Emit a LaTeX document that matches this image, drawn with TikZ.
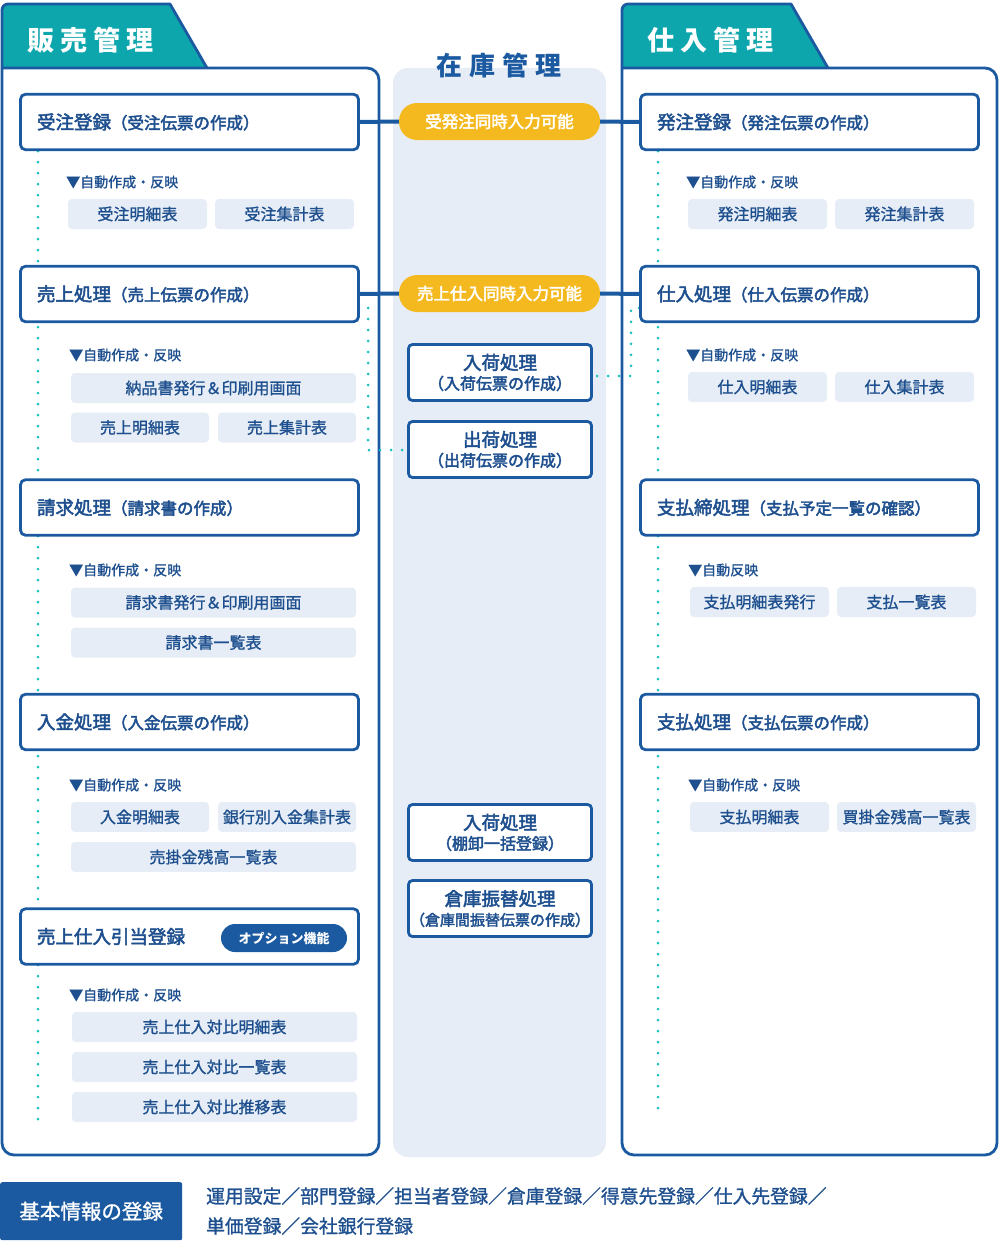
\documentclass[tikz,border=0pt]{standalone}
\usepackage{fontspec}
\setmainfont{Noto Sans CJK JP}
\newfontfamily\jpA[FakeBold=2.6]{Noto Sans CJK JP}
\newfontfamily\jpB[FakeBold=1.2]{Noto Sans CJK JP}
\definecolor{dblue}{HTML}{1B5AA0}
\definecolor{tblue}{HTML}{1E4F8E}
\definecolor{teal1}{HTML}{0DA6AD}
\definecolor{lightbg}{HTML}{E6EDF6}
\definecolor{yel}{HTML}{F5B920}
\definecolor{dotc}{HTML}{1DBFC1}
\pgfdeclarelayer{back}
\pgfdeclarelayer{dots}
\pgfsetlayers{back,dots,main}
\newcommand\ttl[2]{{\fontsize{18.5}{20}\selectfont\jpA #1}{\fontsize{16.5}{20}\selectfont\jpA （#2）}}
\newcommand\ctx[3]{{\fontsize{18.5}{20}\selectfont\jpA #1}\\{\fontsize{#3}{20}\selectfont\jpA #2}}
\tikzset{
 mainbox/.style={draw=dblue, line width=2.8pt, fill=white, rounded corners=5pt, minimum width=338pt, minimum height=55.5pt, text width=305pt, align=left, inner sep=0pt, text=tblue},
 itembox/.style={fill=lightbg, rounded corners=4pt, minimum height=30pt, inner sep=0pt, text=tblue, font=\fontsize{16}{18}\selectfont\jpB},
 lbl/.style={anchor=west, inner sep=0pt, text=tblue, font=\fontsize{14}{16}\selectfont\jpB},
 cbox/.style={draw=dblue, line width=2.8pt, fill=white, rounded corners=4pt, minimum width=183pt, minimum height=56pt, text width=183pt, inner sep=0pt, align=center, text=tblue, font=\fontsize{16}{20}\selectfont},
 pill/.style={fill=yel, rounded corners=18pt, minimum width=201pt, minimum height=37pt, inner sep=0pt, text=white, font=\fontsize{16.5}{18}\selectfont\jpA},
 conn/.style={draw=dblue, line width=4pt},
 dotline/.style={draw=dotc, line width=3pt, line cap=round, dash pattern=on 0pt off 11pt},
 header/.style={inner sep=0pt, font=\fontsize{27}{30}\selectfont\bfseries},
 panel/.style={draw=dblue, line width=2.8pt, rounded corners=12pt},
 tab/.style={fill=teal1, draw=dblue, line width=2.8pt, line join=round},
}
\begin{document}
\begin{tikzpicture}[x=1pt,y=-1pt]
\useasboundingbox (0,0) rectangle (1000,1255);

\begin{pgfonlayer}{back}
 \fill[lightbg, rounded corners=15pt] (393,68) rectangle (606,1157);
 \filldraw[tab] (2,68) -- (2,10) arc[start angle=180,end angle=270,radius=6] -- (170,4) -- (207,68);
 \draw[panel] (2,68) -- (379,68) -- (379,1155) -- (2,1155) -- (2,68);
 \filldraw[tab] (622,68) -- (622,10) arc[start angle=180,end angle=270,radius=6] -- (791,4) -- (828,68);
 \draw[panel] (622,68) -- (997,68) -- (997,1155) -- (622,1155) -- (622,68);
\end{pgfonlayer}

% headers
\node[header, text=white, anchor=west] (hsales) at (27,40) {販\hspace{6pt}売\hspace{6pt}管\hspace{6pt}理};
\node[header, text=white, anchor=west] (hbuy) at (647,40) {仕\hspace{6pt}入\hspace{6pt}管\hspace{6pt}理};
\node[header, text=dblue, font=\fontsize{26}{30}\selectfont\bfseries] (hstock) at (499,66) {在\hspace{7pt}庫\hspace{7pt}管\hspace{7pt}理};

% left main boxes
\node[mainbox] (uj) at (189.5,122) {\ttl{受注登録}{受注伝票の作成}};
\node[mainbox] (sj) at (189.5,294) {\ttl{売上処理}{売上伝票の作成}};
\node[mainbox] (sk) at (189.5,507.5) {\ttl{請求処理}{請求書の作成}};
\node[mainbox] (nk) at (189.5,722) {\ttl{入金処理}{入金伝票の作成}};
\node[mainbox] (hk) at (189.5,936.5) {{\fontsize{18.5}{20}\selectfont\jpA 売上仕入引当登録}};
\node[fill=dblue, rounded corners=14pt, minimum width=126pt, minimum height=28pt, inner sep=0pt, text=white, font=\fontsize{13}{15}\selectfont\bfseries] (opt) at (284,938) {オプション機能};

% right main boxes
\node[mainbox] (hj) at (809.5,122) {\ttl{発注登録}{発注伝票の作成}};
\node[mainbox] (sij) at (809.5,294) {\ttl{仕入処理}{仕入伝票の作成}};
\node[mainbox] (shs) at (809.5,507.5) {\ttl{支払締処理}{支払予定一覧の確認}};
\node[mainbox] (shr) at (809.5,722) {\ttl{支払処理}{支払伝票の作成}};

% pills
\node[pill] (p1) at (499.5,121.5) {受発注同時入力可能};
\node[pill] (p2) at (499.5,293.5) {売上仕入同時入力可能};

% center boxes
\node[cbox] (nyk) at (500,372.5) {\ctx{入荷処理}{（入荷伝票の作成）}{16}};
\node[cbox] (shk) at (500,449.5) {\ctx{出荷処理}{（出荷伝票の作成）}{16}};
\node[cbox] (tao) at (500,832.5) {\ctx{入荷処理}{（棚卸一括登録）}{16}};
\node[cbox] (sof) at (500,908.5) {\ctx{倉庫振替処理}{（倉庫間振替伝票の作成）}{15}};

% left labels and items
\node[lbl] (l1) at (66,182) {▼自動作成・反映};
\node[itembox, minimum width=139pt] (i1a) at (137.5,214) {受注明細表};
\node[itembox, minimum width=139pt] (i1b) at (284.5,214) {受注集計表};

\node[lbl] (l2) at (69,355) {▼自動作成・反映};
\node[itembox, minimum width=285pt] (i2a) at (213.5,388) {納品書発行＆印刷用画面};
\node[itembox, minimum width=138pt] (i2b) at (140,427.5) {売上明細表};
\node[itembox, minimum width=138pt] (i2c) at (287,427.5) {売上集計表};

\node[lbl] (l3) at (69,570) {▼自動作成・反映};
\node[itembox, minimum width=285pt] (i3a) at (213.5,602.5) {請求書発行＆印刷用画面};
\node[itembox, minimum width=285pt] (i3b) at (213.5,642.5) {請求書一覧表};

\node[lbl] (l4) at (69,785) {▼自動作成・反映};
\node[itembox, minimum width=138pt] (i4a) at (140,817) {入金明細表};
\node[itembox, minimum width=138pt] (i4b) at (287,817) {銀行別入金集計表};
\node[itembox, minimum width=285pt] (i4c) at (213.5,857) {売掛金残高一覧表};

\node[lbl] (l5) at (69,995) {▼自動作成・反映};
\node[itembox, minimum width=285pt] (i5a) at (214.5,1027) {売上仕入対比明細表};
\node[itembox, minimum width=285pt] (i5b) at (214.5,1067) {売上仕入対比一覧表};
\node[itembox, minimum width=285pt] (i5c) at (214.5,1107) {売上仕入対比推移表};

% right labels and items
\node[lbl] (r1) at (686,182) {▼自動作成・反映};
\node[itembox, minimum width=139pt] (j1a) at (757.5,214) {発注明細表};
\node[itembox, minimum width=139pt] (j1b) at (904.5,214) {発注集計表};

\node[lbl] (r2) at (686,355) {▼自動作成・反映};
\node[itembox, minimum width=139pt] (j2a) at (757.5,387) {仕入明細表};
\node[itembox, minimum width=139pt] (j2b) at (904.5,387) {仕入集計表};

\node[lbl] (r3) at (688,570) {▼自動反映};
\node[itembox, minimum width=139pt] (j3a) at (759.5,602) {支払明細表発行};
\node[itembox, minimum width=139pt] (j3b) at (906.5,602) {支払一覧表};

\node[lbl] (r4) at (688,785) {▼自動作成・反映};
\node[itembox, minimum width=139pt] (j4a) at (759.5,817) {支払明細表};
\node[itembox, minimum width=139pt] (j4b) at (906.5,817) {買掛金残高一覧表};

% solid connectors
\draw[conn] (uj.east) -- (p1.west);
\draw[conn] (p1.east) -- (hj.west);
\draw[conn] (sj.east) -- (p2.west);
\draw[conn] (p2.east) -- (sij.west);

% dotted lines
\coordinate (lend) at (38,1128);
\coordinate (rend) at (658,1117);
\coordinate (la) at (368,308);
\coordinate (lb) at (368,450);
\coordinate (ra) at (631,308);
\coordinate (rb) at (631,376);
\begin{pgfonlayer}{dots}
 \draw[dotline] (uj.south -| lend) -- (lend);
 \draw[dotline] (hj.south -| rend) -- (rend);
 \draw[dotline] (la) -- (lb) -- (shk.west |- lb);
 \draw[dotline] (sij.west |- ra) -- (ra) -- (rb) -- (nyk.east |- rb);
\end{pgfonlayer}

% bottom
\node[fill=dblue, rounded corners=2pt, minimum width=182pt, minimum height=58pt, inner sep=0pt, text=white, font=\fontsize{20.5}{22}\selectfont\jpB, anchor=north west] (kb) at (0,1182) {基本情報の登録};
\node[anchor=west, inner sep=0pt, align=left, text=tblue, font=\fontsize{18.8}{30}\selectfont\jpB] (kt) at (206,1211) {運用設定／部門登録／担当者登録／倉庫登録／得意先登録／仕入先登録／\\単価登録／会社銀行登録};
\end{tikzpicture}
\end{document}
